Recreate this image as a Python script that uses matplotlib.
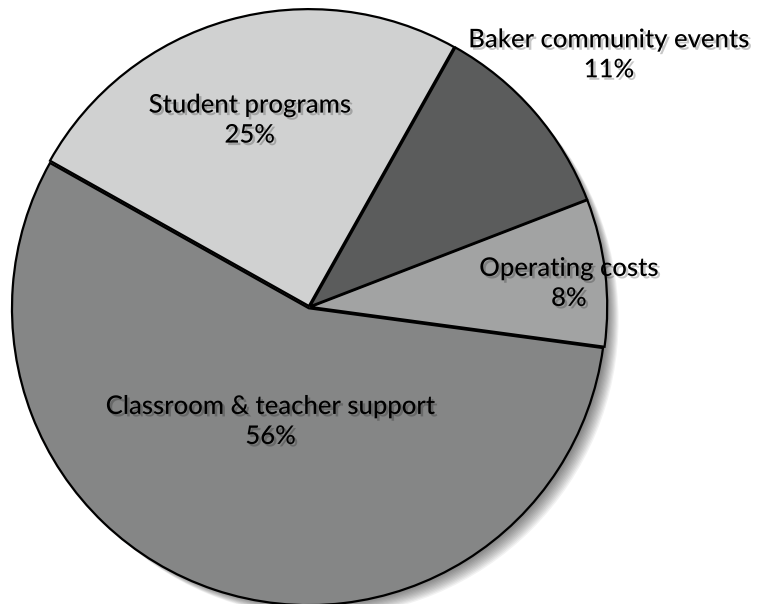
import matplotlib.pyplot as plt
import matplotlib.patheffects as pe

# Datos del gráfico
categorias = ['Operating costs', 'Baker community events', 'Student programs', 'Classroom & teacher support']
porcentajes = [8, 11, 25, 56]
colores = ['#a2a3a3', '#5b5c5c', '#d0d1d1', '#858686']

# posiciones de las etiquetas (coordenadas del eje de la torta)
etiqueta_x = [0.875, 1.01, -0.20, -0.13]
etiqueta_y = [0.08, 0.85, 0.63, -0.385]

fig = plt.figure(figsize=(7.73, 6.04), dpi=100)
ax = fig.add_axes([0.016, 0.0, 0.768, 0.983])

# sombra difusa de la torta (varias capas semitransparentes)
for i in range(12):
    d = 0.004 + 0.0035 * i
    ax.pie([1], colors=['black'], center=(d, -d), radius=1.0, startangle=0,
           wedgeprops={'linewidth': 0, 'alpha': 0.05})

ax.pie(porcentajes, colors=colores, startangle=-7.7, counterclock=True,
       explode=[0.004] * 4,
       wedgeprops={'edgecolor': 'black', 'linewidth': 1.6})

efecto = [pe.SimplePatchShadow(offset=(1.8, -1.8), shadow_rgbFace='black', alpha=0.22), pe.Normal()]
for cat, pct, x, y in zip(categorias, porcentajes, etiqueta_x, etiqueta_y):
    ax.text(x, y, f'{cat}\n{pct}%', ha='center', va='center', fontsize=18.5,
            family='Lato', weight='medium', linespacing=1.25, color='black',
            path_effects=efecto)

ax.set_xlim(-1, 1)
ax.set_ylim(-1, 1)
ax.set_aspect('auto')
ax.axis('off')

fig.savefig('out.png', dpi=100)
